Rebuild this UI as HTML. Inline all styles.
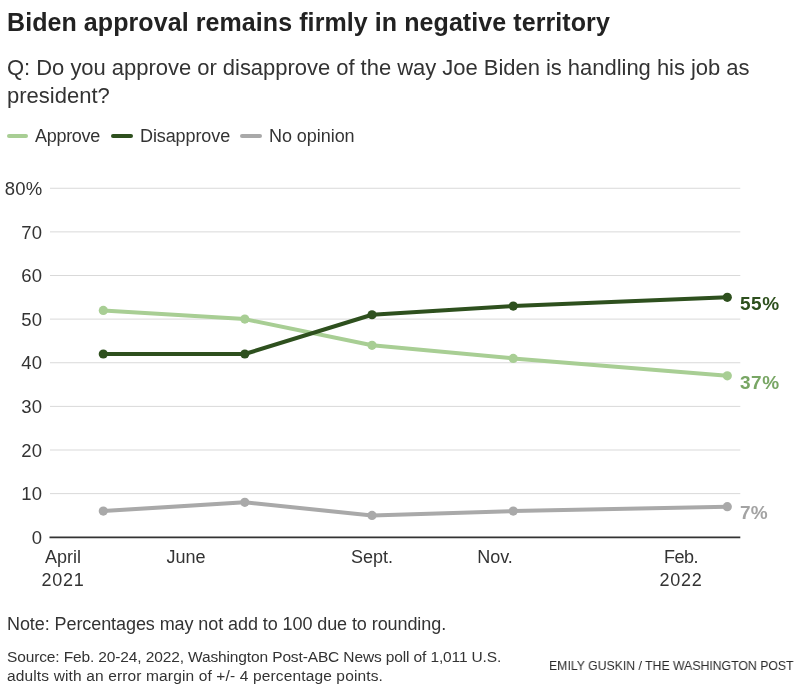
<!DOCTYPE html>
<html><head><meta charset="utf-8"><title>Biden approval remains firmly in negative territory</title>
<style>
html,body{margin:0;padding:0;background:#fff;}
body{width:800px;height:692px;position:relative;overflow:hidden;font-family:"Liberation Sans",Arial,sans-serif;}
.t{position:absolute;white-space:nowrap;line-height:1;font-size:18px;color:#333;will-change:transform;}
.sw{position:absolute;width:21.6px;height:4px;border-radius:2px;}
svg{position:absolute;left:0;top:0;}
#wrap{position:absolute;left:0;top:0;width:800px;height:692px;}
</style></head>
<body><div id="wrap">
<svg width="800" height="692" viewBox="0 0 800 692">
<line x1="50" x2="740.3" y1="493.62" y2="493.62" stroke="#d9d9d9" stroke-width="1"/>
<line x1="50" x2="740.3" y1="450.00" y2="450.00" stroke="#d9d9d9" stroke-width="1"/>
<line x1="50" x2="740.3" y1="406.38" y2="406.38" stroke="#d9d9d9" stroke-width="1"/>
<line x1="50" x2="740.3" y1="362.75" y2="362.75" stroke="#d9d9d9" stroke-width="1"/>
<line x1="50" x2="740.3" y1="319.12" y2="319.12" stroke="#d9d9d9" stroke-width="1"/>
<line x1="50" x2="740.3" y1="275.50" y2="275.50" stroke="#d9d9d9" stroke-width="1"/>
<line x1="50" x2="740.3" y1="231.88" y2="231.88" stroke="#d9d9d9" stroke-width="1"/>
<line x1="50" x2="740.3" y1="188.25" y2="188.25" stroke="#d9d9d9" stroke-width="1"/>
<line x1="49.5" x2="740.3" y1="537.4" y2="537.4" stroke="#333" stroke-width="1.8"/>
<polyline points="103.30,511.07 244.80,502.35 372.00,515.44 513.25,511.07 727.30,506.71" fill="none" stroke="#a9a9a9" stroke-width="4" stroke-linejoin="round"/>
<circle cx="103.3" cy="511.07" r="4.6" fill="#a9a9a9"/>
<circle cx="244.8" cy="502.35" r="4.6" fill="#a9a9a9"/>
<circle cx="372.0" cy="515.44" r="4.6" fill="#a9a9a9"/>
<circle cx="513.25" cy="511.07" r="4.6" fill="#a9a9a9"/>
<circle cx="727.3" cy="506.71" r="4.6" fill="#a9a9a9"/>
<polyline points="103.30,310.40 244.80,319.12 372.00,345.30 513.25,358.39 727.30,375.84" fill="none" stroke="#a8ce94" stroke-width="4" stroke-linejoin="round"/>
<circle cx="103.3" cy="310.40" r="4.6" fill="#a8ce94"/>
<circle cx="244.8" cy="319.12" r="4.6" fill="#a8ce94"/>
<circle cx="372.0" cy="345.30" r="4.6" fill="#a8ce94"/>
<circle cx="513.25" cy="358.39" r="4.6" fill="#a8ce94"/>
<circle cx="727.3" cy="375.84" r="4.6" fill="#a8ce94"/>
<polyline points="103.30,354.02 244.80,354.02 372.00,314.76 513.25,306.04 727.30,297.31" fill="none" stroke="#2e501e" stroke-width="4" stroke-linejoin="round"/>
<circle cx="103.3" cy="354.02" r="4.6" fill="#2e501e"/>
<circle cx="244.8" cy="354.02" r="4.6" fill="#2e501e"/>
<circle cx="372.0" cy="314.76" r="4.6" fill="#2e501e"/>
<circle cx="513.25" cy="306.04" r="4.6" fill="#2e501e"/>
<circle cx="727.3" cy="297.31" r="4.6" fill="#2e501e"/>
</svg>
<div class="t" style="left:7.2px;top:9.93px;font-size:25px;font-weight:700;color:#222;letter-spacing:0.08px;">Biden approval remains firmly in negative territory</div>
<div class="t" style="left:6.5px;top:57.07px;font-size:22px;font-weight:400;color:#333;letter-spacing:-0.03px;">Q: Do you approve or disapprove of the way Joe Biden is handling his job as</div>
<div class="t" style="left:6.5px;top:85.07px;font-size:22px;font-weight:400;color:#333;letter-spacing:0px;">president?</div>
<div class="sw" style="left:6.9px;top:133.5px;background:#a8ce94"></div>
<div class="t" style="left:34.6px;top:127.06px;font-size:18px;font-weight:400;color:#333;letter-spacing:-0.3px;">Approve</div>
<div class="sw" style="left:111.2px;top:133.5px;background:#2e501e"></div>
<div class="t" style="left:139.5px;top:127.06px;font-size:18px;font-weight:400;color:#333;letter-spacing:-0.1px;">Disapprove</div>
<div class="sw" style="left:240.0px;top:133.5px;background:#a9a9a9"></div>
<div class="t" style="left:268.9px;top:127.06px;font-size:18px;font-weight:400;color:#333;letter-spacing:-0.05px;">No opinion</div>
<div class="t" style="left:0;width:42.3px;text-align:right;top:528.89px;font-size:18.5px;letter-spacing:0.2px">0</div>
<div class="t" style="left:0;width:42.3px;text-align:right;top:485.26px;font-size:18.5px;letter-spacing:0.2px">10</div>
<div class="t" style="left:0;width:42.3px;text-align:right;top:441.64px;font-size:18.5px;letter-spacing:0.2px">20</div>
<div class="t" style="left:0;width:42.3px;text-align:right;top:398.01px;font-size:18.5px;letter-spacing:0.2px">30</div>
<div class="t" style="left:0;width:42.3px;text-align:right;top:354.39px;font-size:18.5px;letter-spacing:0.2px">40</div>
<div class="t" style="left:0;width:42.3px;text-align:right;top:310.76px;font-size:18.5px;letter-spacing:0.2px">50</div>
<div class="t" style="left:0;width:42.3px;text-align:right;top:267.14px;font-size:18.5px;letter-spacing:0.2px">60</div>
<div class="t" style="left:0;width:42.3px;text-align:right;top:223.51px;font-size:18.5px;letter-spacing:0.2px">70</div>
<div class="t" style="left:0;width:42.3px;text-align:right;top:179.89px;font-size:18.5px;letter-spacing:0.2px">80%</div>
<div class="t" style="left:2.75px;width:120px;text-align:center;top:547.76px;font-size:18px;letter-spacing:0px">April</div>
<div class="t" style="left:3.1000000000000014px;width:120px;text-align:center;top:570.96px;font-size:18px;letter-spacing:0.8px">2021</div>
<div class="t" style="left:125.6px;width:120px;text-align:center;top:547.76px;font-size:18px;letter-spacing:0px">June</div>
<div class="t" style="left:311.6px;width:120px;text-align:center;top:547.76px;font-size:18px;letter-spacing:0px">Sept.</div>
<div class="t" style="left:435.25px;width:120px;text-align:center;top:547.76px;font-size:18px;letter-spacing:0px">Nov.</div>
<div class="t" style="left:621px;width:120px;text-align:center;top:547.76px;font-size:18px;letter-spacing:-0.5px">Feb.</div>
<div class="t" style="left:620.5px;width:120px;text-align:center;top:570.96px;font-size:18px;letter-spacing:0.8px">2022</div>
<div class="t" style="left:739.5px;top:294.41px;font-size:19px;font-weight:700;color:#2e501e;letter-spacing:0.5px;">55%</div>
<div class="t" style="left:739.5px;top:373.21px;font-size:19px;font-weight:700;color:#78a664;letter-spacing:0.5px;">37%</div>
<div class="t" style="left:739.5px;top:503.41px;font-size:19px;font-weight:700;color:#a3a3a3;letter-spacing:0.3px;">7%</div>
<div class="t" style="left:6.8px;top:614.76px;font-size:18px;font-weight:400;color:#333;letter-spacing:-0.08px;">Note: Percentages may not add to 100 due to rounding.</div>
<div class="t" style="left:6.5px;top:649.08px;font-size:15.5px;font-weight:400;color:#333;letter-spacing:-0.13px;">Source: Feb. 20-24, 2022, Washington Post-ABC News poll of 1,011 U.S.</div>
<div class="t" style="left:6.5px;top:668.08px;font-size:15.5px;font-weight:400;color:#333;letter-spacing:0.14px;">adults with an error margin of +/- 4 percentage points.</div>
<div class="t" style="left:549.3px;top:658.58px;font-size:13.6px;font-weight:400;color:#2a2a2a;letter-spacing:0px;transform:scaleX(0.902);transform-origin:0 0;">EMILY GUSKIN / THE WASHINGTON POST</div>
</div></body></html>
